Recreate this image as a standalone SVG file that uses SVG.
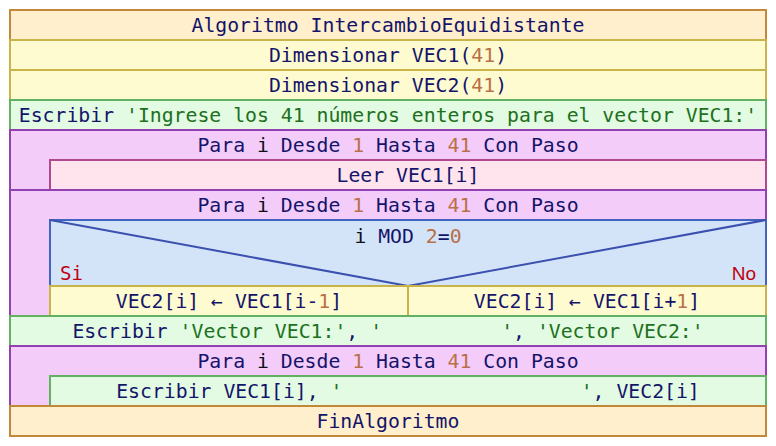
<svg xmlns="http://www.w3.org/2000/svg" width="776" height="446" viewBox="0 0 776 446">
<style>
text{font-family:"DejaVu Sans Mono","Liberation Mono",monospace;font-size:19.8px;fill:#14146a;text-anchor:middle}
.alg{fill:#ffefcc;stroke:#c08838;stroke-width:2}
.dim{fill:#fefbd0;stroke:#c8b448;stroke-width:2}
.esc{fill:#e2fbe2;stroke:#62b062;stroke-width:2}
.para{fill:#f4ccfa;stroke:#9242b0;stroke-width:2}
.leer{fill:#ffe4ee;stroke:#b04890;stroke-width:2}
.si{fill:#d4e4f8;stroke:#4462c0;stroke-width:2}
.diag{fill:none;stroke:#3c50b0;stroke-width:2}
.n{fill:#b87048}
.s{fill:#207020}
.v{fill:#101018}
.lab{fill:#c00010}
</style>
<rect width="776" height="446" fill="#ffffff"/>
<g id="n-algoritmo"><rect class="alg" x="10" y="10" width="756" height="30"/><text x="388" y="32">Algoritmo IntercambioEquidistante</text></g>
<g id="n-dim1"><rect class="dim" x="10" y="40" width="756" height="30"/><text x="388" y="62">Dimensionar VEC1(<tspan class="n">41</tspan>)</text></g>
<g id="n-dim2"><rect class="dim" x="10" y="70" width="756" height="30"/><text x="388" y="92">Dimensionar VEC2(<tspan class="n">41</tspan>)</text></g>
<g id="n-esc1"><rect class="esc" x="10" y="100" width="756" height="30"/><text x="388" y="122">Escribir <tspan class="s">'Ingrese los 41 números enteros para el vector VEC1:'</tspan></text></g>
<g id="n-para1"><rect class="para" x="10" y="130" width="756" height="60"/><text x="388" y="152">Para <tspan class="v">i</tspan> Desde <tspan class="n">1</tspan> Hasta <tspan class="n">41</tspan> Con Paso</text></g>
<g id="n-leer"><rect class="leer" x="50" y="160" width="716" height="30"/><text x="408" y="182">Leer VEC1[i]</text></g>
<g id="n-para2"><rect class="para" x="10" y="190" width="756" height="126"/><text x="388" y="212">Para <tspan class="v">i</tspan> Desde <tspan class="n">1</tspan> Hasta <tspan class="n">41</tspan> Con Paso</text></g>
<g id="n-si"><rect class="si" x="50" y="220" width="716" height="66"/><polyline class="diag" points="50,220 408,286 766,220"/><text x="408" y="243"><tspan class="v">i</tspan> MOD <tspan class="n">2</tspan>=<tspan class="n">0</tspan></text><text class="lab" x="60" y="280" style="text-anchor:start;font-size:19px">Si</text><text class="lab" x="756" y="280" style="text-anchor:end;font-size:19px;font-family:'Liberation Sans',sans-serif">No</text></g>
<g id="n-asig1"><rect class="dim" x="50" y="286" width="358" height="30"/><text x="229" y="308">VEC2[i] ← VEC1[i-<tspan class="n">1</tspan>]</text></g>
<g id="n-asig2"><rect class="dim" x="408" y="286" width="358" height="30"/><text x="587" y="308">VEC2[i] ← VEC1[i+<tspan class="n">1</tspan>]</text></g>
<g id="n-esc2"><rect class="esc" x="10" y="316" width="756" height="30"/><text x="388" y="338" xml:space="preserve">Escribir <tspan class="s">'Vector VEC1:'</tspan>, <tspan class="s">'          '</tspan>, <tspan class="s">'Vector VEC2:'</tspan></text></g>
<g id="n-para3"><rect class="para" x="10" y="346" width="756" height="60"/><text x="388" y="368">Para <tspan class="v">i</tspan> Desde <tspan class="n">1</tspan> Hasta <tspan class="n">41</tspan> Con Paso</text></g>
<g id="n-esc3"><rect class="esc" x="50" y="376" width="716" height="30"/><text x="408" y="398" xml:space="preserve">Escribir VEC1[i], <tspan class="s">'                    '</tspan>, VEC2[i]</text></g>
<g id="n-fin"><rect class="alg" x="10" y="406" width="756" height="30"/><text x="388" y="428">FinAlgoritmo</text></g>
<g id="connectors"/>
</svg>
